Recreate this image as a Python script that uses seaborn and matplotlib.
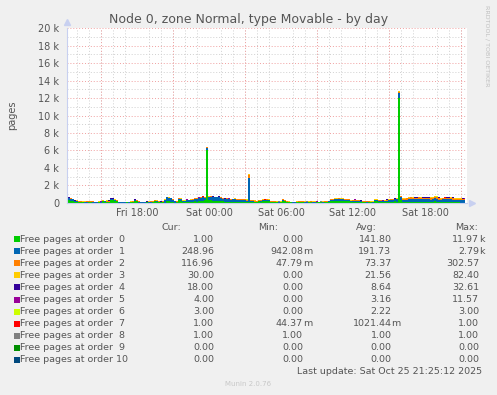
import numpy as np
import matplotlib
matplotlib.use("Agg")
import matplotlib.pyplot as plt
from matplotlib.patches import Rectangle
import seaborn as sns

# hours since Fri 00:00, one reading every 10 minutes
hours = 12.2 + np.arange(200) / 6.0

order_0 = [320, 300, 250, 200, 60, 80, 40, 30, 30, 20, 20, 30, 40, 20, 10, 10, 30, 20, 150, 120,
           60, 80, 280, 300, 220, 160, 20, 10, 10, 20, 30, 20, 40, 30, 180, 150, 20, 10, 10, 20,
           30, 20, 20, 30, 150, 120, 40, 30, 30, 20, 200, 180, 60, 40, 20, 30, 260, 240, 90, 60,
           120, 100, 80, 60, 150, 130, 200, 220, 250, 280, 6000, 320, 300, 250, 180, 200, 220, 180, 150, 120,
           100, 90, 80, 70, 120, 100, 90, 80, 60, 50, 40, 60, 80, 60, 30, 40, 150, 120, 200, 180,
           250, 220, 60, 50, 40, 30, 20, 30, 250, 200, 40, 30, 30, 20, 20, 30, 60, 40, 30, 20,
           20, 30, 30, 20, 20, 30, 40, 30, 20, 30, 30, 40, 180, 160, 200, 220, 250, 230, 220, 200,
           180, 160, 60, 50, 40, 30, 30, 40, 50, 40, 20, 30, 30, 20, 180, 150, 60, 50, 40, 30,
           30, 40, 60, 80, 150, 120, 11970, 300, 60, 50, 40, 60, 80, 70, 60, 50, 120, 100, 100, 90,
           80, 70, 60, 80, 150, 120, 40, 30, 120, 100, 80, 60, 60, 50, 40, 30, 30, 20, 20, 20]
order_1 = [250, 240, 200, 180, 120, 100, 80, 70, 60, 50, 50, 60, 80, 60, 40, 40, 60, 50, 40, 40,
           30, 40, 120, 110, 100, 80, 50, 40, 30, 30, 40, 50, 60, 70, 80, 70, 60, 50, 40, 40,
           50, 40, 40, 50, 80, 70, 60, 50, 80, 300, 400, 380, 450, 300, 120, 100, 200, 180, 100, 120,
           180, 200, 250, 280, 320, 300, 300, 320, 350, 300, 280, 300, 400, 380, 420, 400, 380, 350, 300, 280,
           350, 320, 280, 300, 300, 260, 200, 220, 260, 240, 200, 2790, 120, 100, 80, 70, 60, 80, 100, 90,
           80, 70, 60, 50, 50, 40, 40, 50, 60, 50, 50, 40, 40, 30, 30, 40, 50, 60, 60, 50,
           40, 50, 50, 40, 40, 30, 30, 40, 60, 70, 80, 100, 150, 180, 220, 200, 200, 190, 180, 160,
           160, 150, 120, 140, 200, 180, 150, 120, 80, 70, 60, 50, 50, 60, 120, 140, 150, 120, 100, 110,
           200, 220, 250, 240, 220, 260, 600, 300, 280, 260, 300, 320, 320, 340, 350, 330, 300, 290, 280, 300,
           320, 310, 300, 320, 350, 330, 280, 270, 260, 280, 300, 310, 320, 300, 250, 260, 280, 270, 260, 250]
order_2 = [30, 35, 40, 45, 50, 55, 60, 50, 40, 60, 120, 100, 80, 60, 30, 35, 40, 45, 50, 45,
           120, 100, 60, 50, 40, 35, 30, 40, 50, 45, 40, 35, 30, 50, 80, 70, 60, 45, 30, 35,
           40, 60, 80, 70, 60, 55, 50, 40, 30, 35, 40, 35, 30, 35, 40, 50, 60, 55, 50, 45,
           40, 35, 30, 40, 50, 55, 60, 65, 70, 75, 80, 70, 60, 55, 50, 65, 80, 70, 60, 55,
           50, 45, 40, 50, 60, 70, 80, 75, 70, 80, 90, 302, 90, 100, 120, 100, 80, 70, 60, 65,
           70, 65, 60, 70, 80, 65, 50, 55, 60, 65, 70, 55, 40, 45, 50, 55, 60, 70, 80, 65,
           50, 55, 60, 65, 70, 55, 40, 45, 50, 55, 60, 70, 80, 70, 60, 55, 50, 60, 70, 65,
           60, 65, 70, 80, 90, 85, 80, 70, 60, 65, 70, 60, 50, 55, 60, 75, 90, 85, 80, 90,
           100, 95, 90, 85, 80, 100, 150, 130, 120, 150, 180, 190, 200, 170, 150, 180, 220, 200, 180, 170,
           160, 180, 200, 190, 180, 200, 220, 180, 150, 160, 180, 190, 200, 195, 190, 180, 170, 165, 160, 160]
order_3 = [10, 12, 15, 18, 20, 22, 25, 20, 15, 20, 30, 25, 20, 16, 12, 14, 15, 18, 20, 20,
           30, 25, 20, 18, 15, 12, 10, 15, 20, 18, 15, 14, 12, 18, 25, 22, 20, 16, 12, 14,
           15, 20, 25, 22, 20, 18, 15, 14, 12, 14, 15, 12, 10, 12, 15, 18, 20, 19, 18, 16,
           15, 14, 12, 15, 18, 19, 20, 21, 22, 24, 25, 22, 20, 19, 18, 22, 25, 22, 20, 18,
           18, 16, 15, 18, 20, 22, 25, 24, 22, 20, 25, 82, 25, 28, 30, 28, 25, 22, 20, 21,
           22, 21, 20, 22, 25, 22, 18, 19, 20, 21, 22, 18, 15, 16, 18, 19, 20, 22, 25, 22,
           18, 19, 20, 21, 22, 18, 15, 16, 18, 19, 20, 22, 25, 22, 20, 19, 18, 20, 22, 21,
           20, 21, 22, 25, 28, 26, 25, 22, 20, 21, 22, 20, 18, 19, 20, 24, 28, 26, 25, 26,
           28, 26, 25, 24, 22, 30, 40, 35, 30, 32, 35, 36, 38, 35, 32, 36, 40, 38, 35, 34,
           32, 35, 38, 36, 35, 38, 40, 35, 30, 32, 35, 36, 38, 35, 32, 31, 30, 30, 30, 30]
order_4 = [12, 11, 10, 9, 8, 7, 6, 5, 5, 6, 8, 9, 10, 8, 6, 5, 4, 4, 5, 5,
           8, 9, 10, 8, 6, 5, 4, 3, 3, 4, 5, 6, 6, 7, 8, 7, 5, 4, 4, 4,
           6, 5, 5, 6, 8, 7, 6, 5, 5, 8, 10, 11, 12, 10, 8, 9, 10, 9, 8, 8,
           9, 9, 10, 11, 12, 13, 14, 13, 12, 11, 10, 11, 12, 13, 14, 13, 12, 11, 10, 10,
           10, 9, 8, 9, 9, 8, 8, 7, 6, 7, 8, 32.61, 8, 7, 6, 6, 5, 5, 6, 6,
           5, 5, 4, 4, 5, 5, 4, 4, 5, 5, 6, 5, 4, 4, 3, 3, 4, 4, 5, 5,
           4, 4, 5, 5, 4, 4, 3, 3, 5, 5, 6, 7, 8, 8, 9, 9, 10, 9, 8, 8,
           8, 7, 6, 7, 8, 8, 7, 6, 5, 5, 4, 4, 5, 5, 6, 7, 8, 8, 7, 7,
           9, 9, 10, 11, 12, 13, 14, 13, 12, 12, 13, 14, 14, 15, 15, 16, 16, 15, 14, 14,
           15, 15, 16, 16, 18, 18, 17, 17, 16, 16, 18, 18, 17, 17, 18, 18, 18, 18, 18, 18]
order_5 = [4, 4, 3, 3, 3, 3, 2, 2, 2, 2, 3, 3, 4, 3, 2, 2, 2, 2, 2, 2,
           3, 3, 4, 3, 2, 2, 2, 2, 1, 1, 2, 2, 3, 3, 3, 3, 2, 2, 2, 2,
           2, 2, 2, 2, 3, 3, 2, 2, 2, 3, 4, 4, 5, 4, 3, 3, 4, 4, 3, 3,
           3, 3, 4, 4, 4, 4, 5, 5, 4, 4, 4, 4, 5, 5, 5, 5, 4, 4, 4, 4,
           4, 4, 3, 3, 3, 3, 3, 3, 2, 2, 2, 11.57, 3, 3, 2, 2, 2, 2, 2, 2,
           2, 2, 2, 2, 2, 2, 2, 2, 2, 2, 2, 2, 2, 2, 1, 1, 2, 2, 2, 2,
           2, 2, 2, 2, 2, 2, 1, 1, 2, 2, 2, 2, 3, 3, 3, 3, 4, 4, 3, 3,
           3, 3, 2, 2, 3, 3, 3, 3, 2, 2, 2, 2, 2, 2, 2, 2, 3, 3, 3, 3,
           3, 3, 4, 4, 4, 4, 5, 5, 4, 4, 5, 5, 5, 5, 5, 5, 4, 4, 5, 5,
           4, 4, 5, 5, 4, 4, 4, 4, 5, 5, 4, 4, 4, 4, 4, 4, 4, 4, 4, 4]
order_6 = [3, 3, 3, 3, 2, 2, 2, 2, 2, 2, 2, 2, 3, 3, 2, 2, 2, 2, 2, 2,
           2, 2, 3, 3, 2, 2, 2, 2, 1, 1, 2, 2, 2, 2, 2, 2, 2, 2, 2, 2,
           2, 2, 2, 2, 2, 2, 2, 2, 2, 2, 3, 3, 3, 3, 2, 2, 3, 3, 2, 2,
           2, 2, 3, 3, 3, 3, 3, 3, 3, 3, 2, 2, 3, 3, 3, 3, 3, 3, 3, 3,
           3, 3, 2, 2, 2, 2, 2, 2, 2, 2, 3, 3, 2, 2, 2, 2, 2, 2, 2, 2,
           2, 2, 2, 2, 2, 2, 2, 2, 2, 2, 2, 2, 2, 2, 1, 1, 2, 2, 2, 2,
           2, 2, 2, 2, 2, 2, 1, 1, 2, 2, 2, 2, 2, 2, 2, 2, 3, 3, 2, 2,
           2, 2, 2, 2, 2, 2, 2, 2, 2, 2, 2, 2, 2, 2, 2, 2, 2, 2, 2, 2,
           2, 2, 3, 3, 3, 3, 3, 3, 3, 3, 3, 3, 3, 3, 3, 3, 3, 3, 3, 3,
           3, 3, 3, 3, 3, 3, 3, 3, 3, 3, 3, 3, 3, 3, 3, 3, 3, 3, 3, 3]
order_7 = [1.0] * 89 + [0.04] + [1.0] * 110
order_8 = [1.0] * 200
order_9 = [0.0] * 200
order_10 = [0.0] * 200

series = [order_0, order_1, order_2, order_3, order_4, order_5,
          order_6, order_7, order_8, order_9, order_10]
labels = ["Free pages at order  %d" % i for i in range(10)] + ["Free pages at order 10"]
colors = ["#00CC00", "#0066B3", "#FF8000", "#FFCC00", "#330099", "#990099",
          "#CCFF00", "#FF0000", "#808080", "#008F00", "#00487D"]

cur = ["1.00", "248.96", "116.96", "30.00", "18.00", "4.00", "3.00", "1.00", "1.00", "0.00", "0.00"]
mins = ["0.00", "942.08m", "47.79m", "0.00", "0.00", "0.00", "0.00", "44.37m", "1.00", "0.00", "0.00"]
avgs = ["141.80", "191.73", "73.37", "21.56", "8.64", "3.16", "2.22", "1021.44m", "1.00", "0.00", "0.00"]
maxs = ["11.97k", "2.79k", "302.57", "82.40", "32.61", "11.57", "3.00", "1.00", "1.00", "0.00", "0.00"]

x_tick_hours = [18, 24, 30, 36, 42]
x_tick_labels = ["Fri 18:00", "Sat 00:00", "Sat 06:00", "Sat 12:00", "Sat 18:00"]
y_ticks = np.arange(0, 20001, 2000)
y_tick_labels = ["0"] + ["%d k" % (v // 1000) for v in y_ticks[1:]]

sns.set_theme(style="white")
plt.rcParams['font.family'] = ['DejaVu Sans']
txt = "#555555"

W, H = 497, 395
fig = plt.figure(figsize=(W / 100, H / 100), dpi=100, facecolor="#F0F0F0")


def fx(px):
    return px / W


def fy(py):
    return 1 - py / H


ax = fig.add_axes([fx(67), fy(202.7), fx(467) - fx(67), fy(28.3) - fy(202.7)])
ax.set_facecolor("white")

# grid
ax.set_xlim(12.167, 45.5)
ax.set_ylim(0, 20000)
ax.set_xticks(x_tick_hours)
ax.set_xticklabels(x_tick_labels)
ax.set_xticks(np.arange(13, 46, 1), minor=True)
ax.set_yticks(y_ticks)
ax.set_yticklabels(y_tick_labels)
ax.set_yticks(np.arange(1000, 20000, 2000), minor=True)
ax.grid(which="minor", color="#D0D0D0", linestyle=(0, (1, 2)), linewidth=0.7)
ax.grid(which="major", axis="y", color="#F0A0A0", linestyle=(0, (1, 2)), linewidth=0.7)
ax.vlines([15, 21, 27, 33, 39, 45], 0, 20000, colors="#F0A0A0",
          linestyles=(0, (1, 2)), linewidth=0.7, zorder=0.8)
ax.set_axisbelow(True)

# stacked areas, drawn as steps like rrdtool
lower = np.zeros(len(hours))
for vals, c in zip(series, colors):
    upper = lower + np.asarray(vals, dtype=float)
    ax.fill_between(hours, lower, upper, step="mid", facecolor=c,
                    edgecolor="none", linewidth=0, zorder=2)
    lower = upper

ax.tick_params(which="both", length=0, labelsize=7, colors=txt)
ax.tick_params(axis="x", pad=3.5)
ax.tick_params(axis="y", pad=5.5)
for s in ["top", "right"]:
    ax.spines[s].set_visible(False)
for s in ["left", "bottom"]:
    ax.spines[s].set_color("#C8D0F0")
    ax.spines[s].set_linewidth(0.8)
    ax.spines[s].set_zorder(3)
ax.plot([0], [1.035], marker="^", color="#C8D0F0", markersize=5,
        transform=ax.transAxes, clip_on=False)
ax.plot([1.012], [0], marker=">", color="#C8D0F0", markersize=5,
        transform=ax.transAxes, clip_on=False)

fig.text(fx(248.5), fy(19), "Node 0, zone Normal, type Movable - by day",
         ha="center", va="center", fontsize=9, color=txt)
fig.text(fx(12), fy(115), "pages", rotation=90, ha="center", va="center",
         fontsize=7, color=txt)
fig.text(fx(487), fy(5), "RRDTOOL / TOBI OETIKER", rotation=270, ha="center",
         va="top", fontsize=4.6, color="#C0C0C0")

# legend table
fs = 6.8
for name, x in zip(["Cur:", "Min:", "Avg:", "Max:"], [161, 258, 356, 454.7]):
    fig.text(fx(x), fy(228), name, ha="left", va="center", fontsize=fs, color=txt)

for i in range(11):
    yc = 239.3 + 12.04 * i
    fig.add_artist(Rectangle((fx(14), fy(yc + 3)), fx(6), fy(yc - 3) - fy(yc + 3),
                             transform=fig.transFigure, facecolor=colors[i],
                             edgecolor="none"))
    fig.text(fx(20.5), fy(yc), labels[i], ha="left", va="center", fontsize=fs, color=txt)
    for col, x in zip([cur, mins, avgs, maxs], [214, 303, 391.5, 479]):
        val = col[i]
        if val[-1] in "mk":
            fig.text(fx(x), fy(yc), val[:-1], ha="right", va="center", fontsize=fs, color=txt)
            fig.text(fx(x), fy(yc), val[-1], ha="left", va="center", fontsize=fs, color=txt)
        else:
            fig.text(fx(x), fy(yc), val, ha="right", va="center", fontsize=fs, color=txt)

fig.text(fx(482.3), fy(371), "Last update: Sat Oct 25 21:25:12 2025", ha="right",
         va="center", fontsize=fs, color=txt)
fig.text(fx(248), fy(384.3), "Munin 2.0.76", ha="center", va="center",
         fontsize=5, color="#C8C8C8")

fig.savefig("out.png", dpi=100, facecolor=fig.get_facecolor())
